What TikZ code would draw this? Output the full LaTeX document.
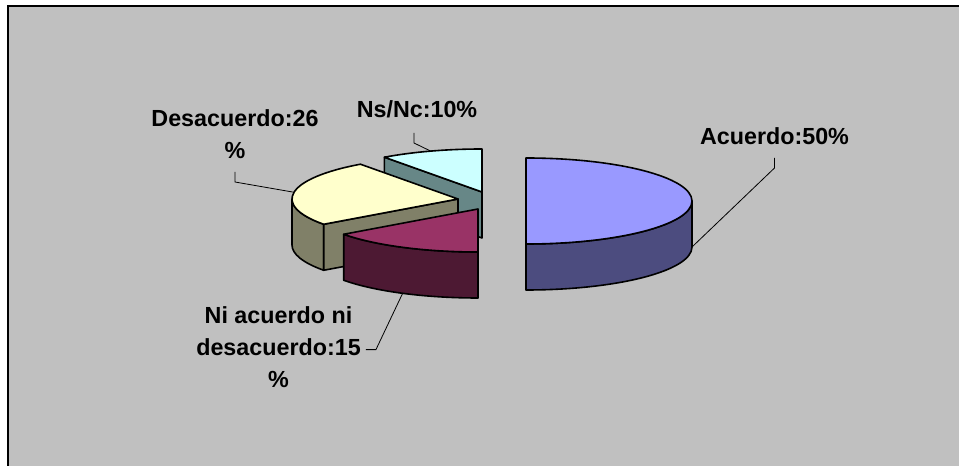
\documentclass[tikz,border=0pt]{standalone}
\usepackage{fontspec}
\setmainfont{Liberation Sans}
\usetikzlibrary{calc}
\definecolor{bggray}{HTML}{C0C0C0}
\definecolor{bluetop}{HTML}{9999FF}
\definecolor{blueside}{HTML}{4C4C7F}
\definecolor{cyantop}{HTML}{CCFFFF}
\definecolor{tealside}{HTML}{678787}
\definecolor{yellowtop}{HTML}{FFFFCC}
\definecolor{oliveside}{HTML}{808068}
\definecolor{magtop}{HTML}{993366}
\definecolor{magside}{HTML}{4D1933}
\begin{document}
\begin{tikzpicture}[x=1pt,y=1pt,
  outline/.style={draw=black, line width=1.6pt, line join=round},
  leader/.style={draw=black, line width=0.8pt},
  lbl/.style={font=\fontsize{23.3}{32}\selectfont\bfseries, inner sep=0pt, align=center},
  er/.style={x radius=166, y radius=43}]
\useasboundingbox (0,0) rectangle (959,466);
\fill[bggray] (8,-3) rectangle (963,460);
\draw[line width=2pt] (8,-3) -- (8,460) -- (963,460);

\coordinate (cC) at (482,274);
\coordinate (cY) at (458,267);
\coordinate (cM) at (478,257);
\coordinate (cB) at (526,265);

% Ns/Nc slice
\path[outline, fill=tealside] (cC) -- ++(126:166 and 43) -- ++(0,-46) -- ($(cC)+(0,-46)$) -- cycle;
\path[outline, fill=cyantop] (cC) -- ++(90:166 and 43) arc[start angle=90, end angle=126, er] -- cycle;

% Desacuerdo slice
\path[outline, fill=oliveside] ($(cY)+(180:166 and 43)$) arc[start angle=180, end angle=216, er] -- ++(0,-46) arc[start angle=216, end angle=180, er] -- cycle;
\path[outline, fill=oliveside] (cY) -- ++(216:166 and 43) -- ++(0,-46) -- ($(cY)+(0,-46)$) -- cycle;
\path[outline, fill=yellowtop] (cY) -- ++(126:166 and 43) arc[start angle=126, end angle=216, er] -- cycle;

% Ni acuerdo ni desacuerdo slice
\path[outline, fill=magside] ($(cM)+(216:166 and 43)$) arc[start angle=216, end angle=270, er] -- ++(0,-46) arc[start angle=270, end angle=216, er] -- cycle;
\path[outline, fill=magtop] (cM) -- ++(216:166 and 43) arc[start angle=216, end angle=270, er] -- cycle;

% Acuerdo slice
\path[outline, fill=blueside] ($(cB)+(0:166 and 43)$) arc[start angle=0, end angle=-90, er] -- ++(0,-46) arc[start angle=-90, end angle=0, er] -- cycle;
\path[outline, fill=bluetop] (cB) -- ++(90:166 and 43) arc[start angle=90, end angle=-90, er] -- cycle;

% leader end points
\coordinate (aB) at ($(cB)+(0:166 and 43)+(0,-46)$);
\coordinate (aC) at ($(cC)+(108:166 and 43)$);
\coordinate (aY) at ($(cY)+(171:166 and 43)$);
\coordinate (aM) at ($(cM)+(243:166 and 43)+(0,-46)$);

% labels (base = baseline of the last line)
\node[lbl, anchor=base] (lA) at (774.5,321) {Acuerdo:50\%};
\node[lbl, anchor=base] (lN) at (417,348) {Ns/Nc:10\%};
\node[lbl, anchor=base] (lD) at (235,307) {Desacuerdo:26\\\%};
\node[lbl, anchor=base] (lNi) at (278.5,78) {Ni acuerdo ni\\desacuerdo:15\\\%};

% leaders
\draw[leader] ([yshift=-13pt]lA.base) -- ++(0,-10) -- (aB);
\draw[leader] ([shift={(-3pt,-15pt)}]lN.base) -- ++(0,-10) -- (aC);
\draw[leader] ([yshift=-13pt]lD.base) -- ++(0,-10) -- (aY);
\draw[leader] ([shift={(5pt,-2pt)}]lNi.east) -- ++(10,0) -- (aM);
\end{tikzpicture}
\end{document}
